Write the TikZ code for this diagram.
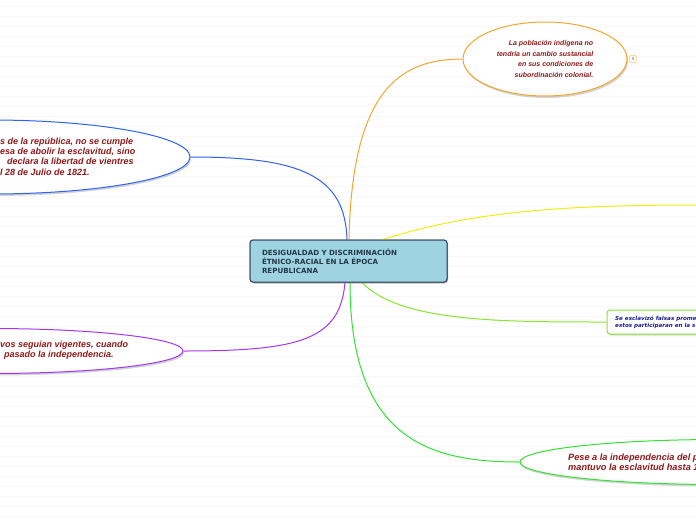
\documentclass[tikz,border=0pt]{standalone}
\usepackage{fontspec}
\setmainfont{Liberation Sans}
\newfontfamily\verdanalike{DejaVu Sans}
\usetikzlibrary{shapes.geometric,shadows}
\definecolor{corange}{HTML}{F5A52E}
\definecolor{cblue}{HTML}{2E62F0}
\definecolor{cpurple}{HTML}{A335F0}
\definecolor{cyellow}{HTML}{EEEE10}
\definecolor{clime}{HTML}{86E62A}
\definecolor{cgreen}{HTML}{33E033}
\definecolor{cred}{HTML}{8E1A1A}
\definecolor{cnavy}{HTML}{1E1E96}
\definecolor{cfill}{HTML}{A0D3E1}
\definecolor{cborder}{HTML}{34495E}
\definecolor{ctitle}{HTML}{22384A}
\definecolor{cstripe}{HTML}{F8F8F8}
\begin{document}
\begin{tikzpicture}[x=1pt,y=-1pt,
  conn/.style={line width=1pt},
  stripe/.style={cstripe, line width=1pt},
  bubble/.style={ellipse, draw, line width=1pt, fill=white,
    drop shadow={shadow xshift=1pt, shadow yshift=-2pt, opacity=0.35}},
  central/.style={draw=cborder, line width=1pt, fill=cfill, rounded corners=3pt,
    text width=173pt, inner xsep=12pt, minimum height=42pt, align=left,
    font=\verdanalike\fontsize{7.1}{9}\selectfont\bfseries, text=ctitle,
    drop shadow={shadow xshift=1pt, shadow yshift=-1.5pt, opacity=0.3}},
  redtext/.style={text=cred, font=\fontsize{9}{10.3}\selectfont\bfseries\itshape, inner sep=0pt},
]
\useasboundingbox (0,0) rectangle (696,520);
\clip (0,0) rectangle (696,520);

% faint background stripes
\foreach \k in {0,...,51} \draw[stripe] (0,6.5+10*\k) -- (696,6.5+10*\k);

% bubbles
\node[bubble, draw=corange, minimum width=164pt, minimum height=74pt, align=right,
  text=cred, font=\fontsize{7}{10.4}\selectfont\bfseries\itshape] (o) at (545,59)
  {La población indígena no\\tendría un cambio sustancial\\en sus condiciones de\\subordinación colonial.};
\node[draw=corange, rounded corners=2pt, fill=white, text=black!60,
  font=\fontsize{4.5}{5}\selectfont, inner sep=0.8pt, minimum width=7pt, minimum height=7pt] (badge) at (633,59) {5};

\node[bubble, draw=cblue, minimum width=400pt, minimum height=74pt] (bl) at (-10,157) {};
\node[redtext, anchor=west, align=left] (blt) at (0,156.5)
  {s de la república, no se cumple\\esa de abolir la esclavitud, sino\\\hspace*{7pt}declara la libertad de vientres\\l 28 de Julio de 1821.};

\node[bubble, draw=cpurple, minimum width=386pt, minimum height=45pt] (pu) at (-10,351) {};
\node[redtext, anchor=west, align=left, font=\fontsize{9}{10}\selectfont\bfseries\itshape] (put) at (0,350)
  {vos seguian vigentes, cuando\\\hspace*{4pt}pasado la independencia.};

\node[bubble, draw=cgreen, minimum width=400pt, minimum height=45pt] (gr) at (720,462) {};
\node[redtext, anchor=west, align=left, font=\fontsize{9.2}{10}\selectfont\bfseries\itshape] (grt) at (568,462)
  {Pese a la independencia del p\\mantuvo la esclavitud hasta 1};

\node[draw=clime, line width=1pt, fill=white, rounded corners=3pt, minimum width=120pt, minimum height=24pt,
  drop shadow={shadow xshift=1pt, shadow yshift=-1.5pt, opacity=0.3}] (li) at (667,322) {};
\node[anchor=west, align=left, text=cnavy, inner sep=0pt,
  font=\verdanalike\fontsize{5.6}{7.2}\selectfont\bfseries\itshape] (lit) at (615,322)
  {Se esclavizó falsas prome\\estos participaran en la su};

% central node
\node[central] (c) at (348.5,261) {DESIGUALDAD Y DISCRIMINACIÓN\\ÉTNICO-RACIAL EN LA ÉPOCA\\REPUBLICANA};

\coordinate (yend) at (697,205);

% connectors
\draw[conn, corange] ([xshift=0.5pt]c.north) .. controls (352,90) and (400,59) .. (o.west);
\draw[conn, cblue] ([xshift=-1.5pt]c.north) .. controls (345,175) and (300,157) .. (bl.east);
\draw[conn, cyellow] ([xshift=34pt]c.north) .. controls (470,212) and (560,205) .. (yend);
\draw[conn, cpurple] ([xshift=-3.5pt]c.south) .. controls (340,340) and (300,351) .. (pu.east);
\draw[conn, clime] ([xshift=13.5pt]c.south) .. controls (400,322) and (500,322) .. (li.west);
\draw[conn, cgreen] ([xshift=1.5pt]c.south) .. controls (350,440) and (430,462) .. (gr.west);

% redraw central node on top of connector ends
\node[central] (c2) at (348.5,261) {DESIGUALDAD Y DISCRIMINACIÓN\\ÉTNICO-RACIAL EN LA ÉPOCA\\REPUBLICANA};
\end{tikzpicture}
\end{document}
